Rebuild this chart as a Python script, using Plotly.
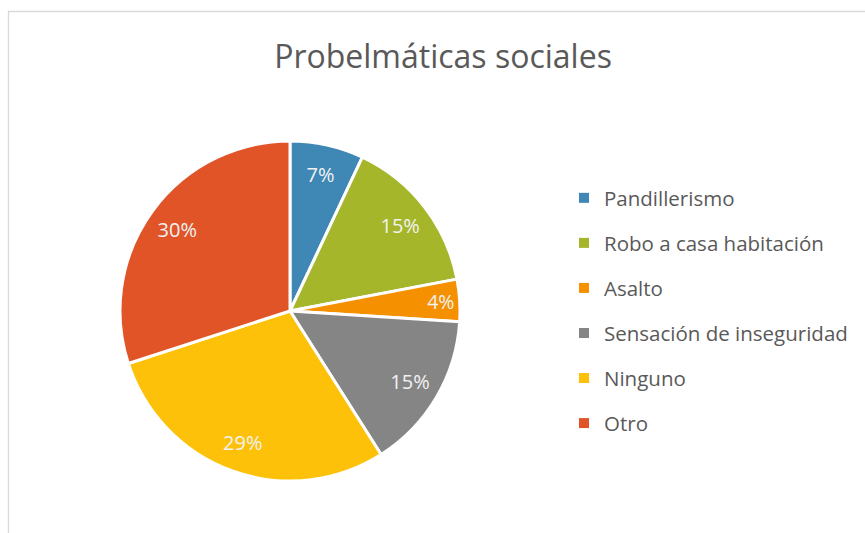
import plotly.graph_objects as go

# data
labels = ["Pandillerismo", "Robo a casa habitación", "Asalto",
          "Sensación de inseguridad", "Ninguno", "Otro"]
values = [7, 15, 4, 15, 29, 30]
colors = ["#3F87B5", "#A5B62A", "#F59100", "#858585", "#FDC10A", "#E05428"]

W, H = 865, 533
cx, cy, r = 290, 311, 170
pie_dom = dict(x=[(cx - r) / W, (cx + r) / W],
               y=[1 - (cy + r) / H, 1 - (cy - r) / H])

fig = go.Figure()

# the slices
fig.add_trace(go.Pie(
    labels=labels, values=values, sort=False,
    direction="clockwise", rotation=0,
    marker=dict(colors=colors, line=dict(color="white", width=3)),
    textinfo="none", domain=pie_dom, showlegend=False,
    hoverinfo="label+percent",
))

# transparent ring on top only to carry the percent labels near the rim
fig.add_trace(go.Pie(
    labels=labels, values=values, sort=False,
    direction="clockwise", rotation=0, hole=0.64,
    marker=dict(colors=["rgba(0,0,0,0)"] * len(values),
                line=dict(width=0)),
    texttemplate="%{percent:.0%}", textposition="inside",
    insidetextorientation="horizontal",
    textfont=dict(family="Open Sans", size=20, color="#F2F2F2"),
    domain=pie_dom, showlegend=False, hoverinfo="skip",
))

# legend entries, one group each so the gap between them can be set
for i, (lab, col) in enumerate(zip(labels, colors)):
    fig.add_trace(go.Scatter(
        x=[None], y=[None], mode="markers", name=lab,
        marker=dict(symbol="square", size=10, color=col),
        legendgroup=str(i), showlegend=True,
    ))

fig.update_layout(
    width=W, height=H,
    margin=dict(l=0, r=0, t=0, b=0),
    paper_bgcolor="white", plot_bgcolor="white",
    title=dict(text="Probelmáticas sociales", x=443 / W, xanchor="center",
               y=1 - 57 / H, yanchor="middle",
               font=dict(family="Open Sans", size=32, color="#595959")),
    xaxis=dict(visible=False), yaxis=dict(visible=False),
    legend=dict(x=564 / W, xanchor="left", y=1 - 178 / H, yanchor="top",
                font=dict(family="Open Sans", size=20.5, color="#595959"),
                tracegroupgap=15.4, itemwidth=30, bgcolor="rgba(0,0,0,0)"),
    shapes=[dict(type="rect", xref="paper", yref="paper",
                 x0=8.5 / W, x1=1.02, y0=-0.02, y1=1 - 11.5 / H,
                 line=dict(color="#D9D9D9", width=1.3))],
)

fig.write_html("out.html", config={"displayModeBar": False},
               post_script="document.body.style.margin='0';")
